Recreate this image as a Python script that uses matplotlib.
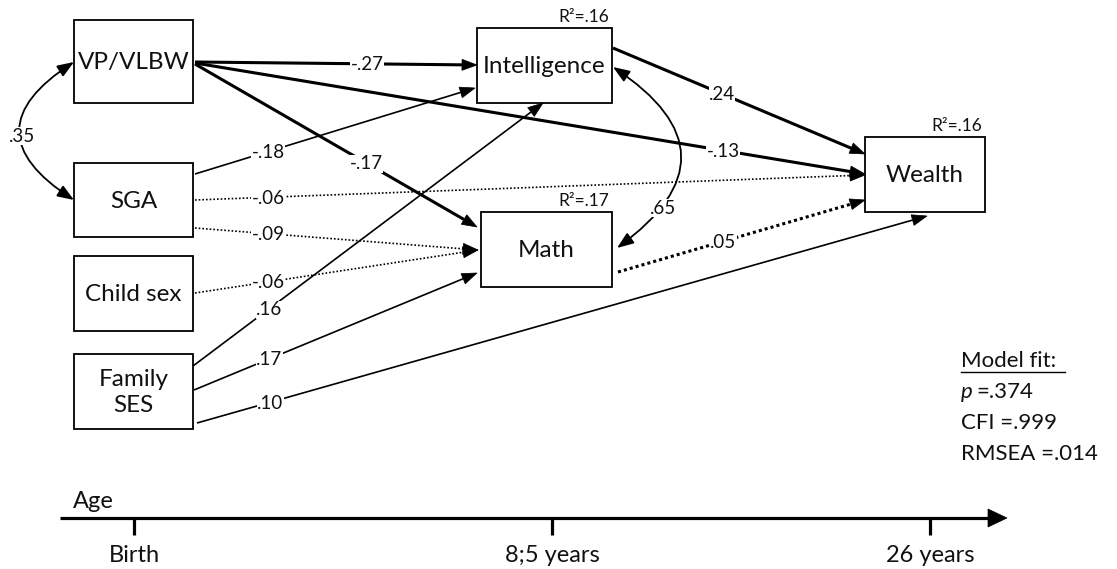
import matplotlib
matplotlib.use("Agg")
import matplotlib.pyplot as plt
from matplotlib.patches import Rectangle, Polygon, FancyArrowPatch
import numpy as np

plt.rcParams['font.family'] = ['Lato', 'DejaVu Sans']

# ---------------- data ----------------
node_names = ["VP/VLBW", "SGA", "Child sex", "Family\nSES", "Intelligence", "Math", "Wealth"]
r2_nodes = ["Intelligence", "Math", "Wealth"]
r2_values = [0.16, 0.17, 0.16]
path_from = ["VP/VLBW", "VP/VLBW", "VP/VLBW", "SGA", "SGA", "SGA", "Child sex",
             "Family\nSES", "Family\nSES", "Family\nSES", "Intelligence", "Math"]
path_to = ["Intelligence", "Math", "Wealth", "Intelligence", "Wealth", "Math", "Math",
           "Intelligence", "Math", "Wealth", "Wealth", "Wealth"]
path_coef = [-0.27, -0.17, -0.13, -0.18, -0.06, -0.09, -0.06, 0.16, 0.17, 0.10, 0.24, 0.05]
path_significant = [True, True, True, True, False, False, False, True, True, True, True, False]
path_bold = [True, True, True, False, False, False, False, False, False, False, True, True]
cov_pairs = [("VP/VLBW", "SGA"), ("Intelligence", "Math")]
cov_values = [0.35, 0.65]
fit_names = ["p", "CFI", "RMSEA"]
fit_values = [0.374, 0.999, 0.014]
age_labels = ["Birth", "8;5 years", "26 years"]

# ---------------- layout (pixel space) ----------------
W, H = 1117, 569
boxes = {
    "VP/VLBW": (74, 20, 193, 103),
    "SGA": (74, 163, 193, 237),
    "Child sex": (74, 256, 193, 331),
    "Family\nSES": (74, 354, 193, 429),
    "Intelligence": (477, 28, 612, 103),
    "Math": (481, 212, 612, 287),
    "Wealth": (865, 137, 985, 212),
}
path_start = [(195, 62), (195, 64), (195, 63), (195, 174), (195, 200), (195, 228), (195, 293),
              (193, 366), (194, 390), (197, 423), (613, 48), (618, 272)]
path_end = [(477, 65), (477, 227), (865, 174), (475, 88), (865, 175), (478, 250), (478, 250),
            (543, 103), (477, 273), (927, 216), (865, 154), (865, 200)]
label_x = [367, 366, 723, 268, 268, 268, 268, 269, 269, 270, 722, 723]
cov_anchor = [((74, 62), (74, 200), 0.78, (22, 136)),
              ((613, 67), (617, 248), -0.72, (663, 208))]
age_x = [134, 552, 930]
axis_y = 518


def fmt(v, nd=2):
    s = f"{v:.{nd}f}"
    return s.replace("0.", ".", 1)


fig = plt.figure(figsize=(W / 100, H / 100), dpi=100)
ax = fig.add_axes([0, 0, 1, 1])
ax.set_xlim(0, W)
ax.set_ylim(H, 0)
ax.axis("off")


def head(tip, frm, L=15, hw=5.5, color="black"):
    tip = np.array(tip, float)
    frm = np.array(frm, float)
    d = tip - frm
    u = d / np.hypot(*d)
    n = np.array([-u[1], u[0]])
    base = tip - L * u
    ax.add_patch(Polygon([tip, base + hw * n, base - hw * n], closed=True,
                         facecolor=color, edgecolor=color, lw=0.5, zorder=4))
    return base


# boxes
for name in node_names:
    x0, y0, x1, y1 = boxes[name]
    ax.add_patch(Rectangle((x0, y0), x1 - x0, y1 - y0, fill=True, facecolor="white",
                           edgecolor="black", lw=1.3, zorder=3))
    ax.text((x0 + x1) / 2, (y0 + y1) / 2 + 1, name, ha="center", va="center",
            fontsize=17.5, linespacing=1.25, zorder=5, color="#111111")

for name, v in zip(r2_nodes, r2_values):
    x0, y0, x1, y1 = boxes[name]
    ax.text(x1 - 3, y0 - 3, "R²=" + fmt(v), ha="right", va="bottom", fontsize=12.5,
            zorder=5, color="#111111")

# paths
for i in range(len(path_coef)):
    s, e = path_start[i], path_end[i]
    lw = 2.2 if path_bold[i] else 1.2
    base = head(e, s, L=15, hw=5.5)
    if path_significant[i]:
        ls = "-"
    else:
        ls = (0, (1.0, 1.0)) if path_bold[i] else (0, (1.0, 1.2))
    ax.plot([s[0], base[0]], [s[1], base[1]], color="black", lw=lw, linestyle=ls,
            solid_capstyle="butt", dash_capstyle="butt", zorder=2)
    lx = label_x[i]
    t = (lx - s[0]) / (e[0] - s[0])
    ly = s[1] + t * (e[1] - s[1])
    ax.text(lx, ly + 1, fmt(path_coef[i]), ha="center", va="center", fontsize=13.5,
            color="#111111",
            bbox=dict(facecolor="white", edgecolor="none", pad=0.3), zorder=6)

# covariances
for (a, b, rad, lab), v in zip(cov_anchor, cov_values):
    arr = FancyArrowPatch(a, b, connectionstyle=f"arc3,rad={rad}",
                          arrowstyle="<|-|>,head_length=10,head_width=3.8",
                          mutation_scale=1, lw=1.3, color="black",
                          shrinkA=0, shrinkB=0, zorder=2)
    ax.add_patch(arr)
    ax.text(lab[0], lab[1], fmt(v), ha="center", va="center", fontsize=13.5,
            color="#111111",
            bbox=dict(facecolor="white", edgecolor="none", pad=0.3), zorder=6)

# model fit
fx = 961
fs_fit = 16
ax.text(fx, 361, "Model fit:", ha="left", va="center", fontsize=fs_fit, color="#111111")
ax.plot([fx, 1065], [372, 372], color="black", lw=1.0)
fig.canvas.draw()
renderer = fig.canvas.get_renderer()
fy = [392, 423, 454]
for name, v, y in zip(fit_names, fit_values, fy):
    if name == "p":
        tp = ax.text(fx, y, "p", ha="left", va="center", fontsize=fs_fit, style="italic",
                     color="#111111")
        bb = tp.get_window_extent(renderer=renderer)
        ax.text(fx + bb.width + 4, y, "=" + fmt(v, 3), ha="left", va="center",
                fontsize=fs_fit, color="#111111")
    else:
        ax.text(fx, y, name + " =" + fmt(v, 3), ha="left", va="center", fontsize=fs_fit,
                color="#111111")

# age axis
ax.plot([60, 990], [axis_y, axis_y], color="black", lw=2.3, solid_capstyle="butt")
head((1007, axis_y), (60, axis_y), L=19, hw=9)
ax.text(73, axis_y - 17, "Age", ha="left", va="center", fontsize=17, color="#111111")
for x, lab in zip(age_x, age_labels):
    ax.plot([x, x], [axis_y, axis_y + 17], color="black", lw=2.3, solid_capstyle="butt")
    ax.text(x, axis_y + 38, lab, ha="center", va="center", fontsize=17, color="#111111")

fig.savefig("out.png", dpi=100, facecolor="white")
